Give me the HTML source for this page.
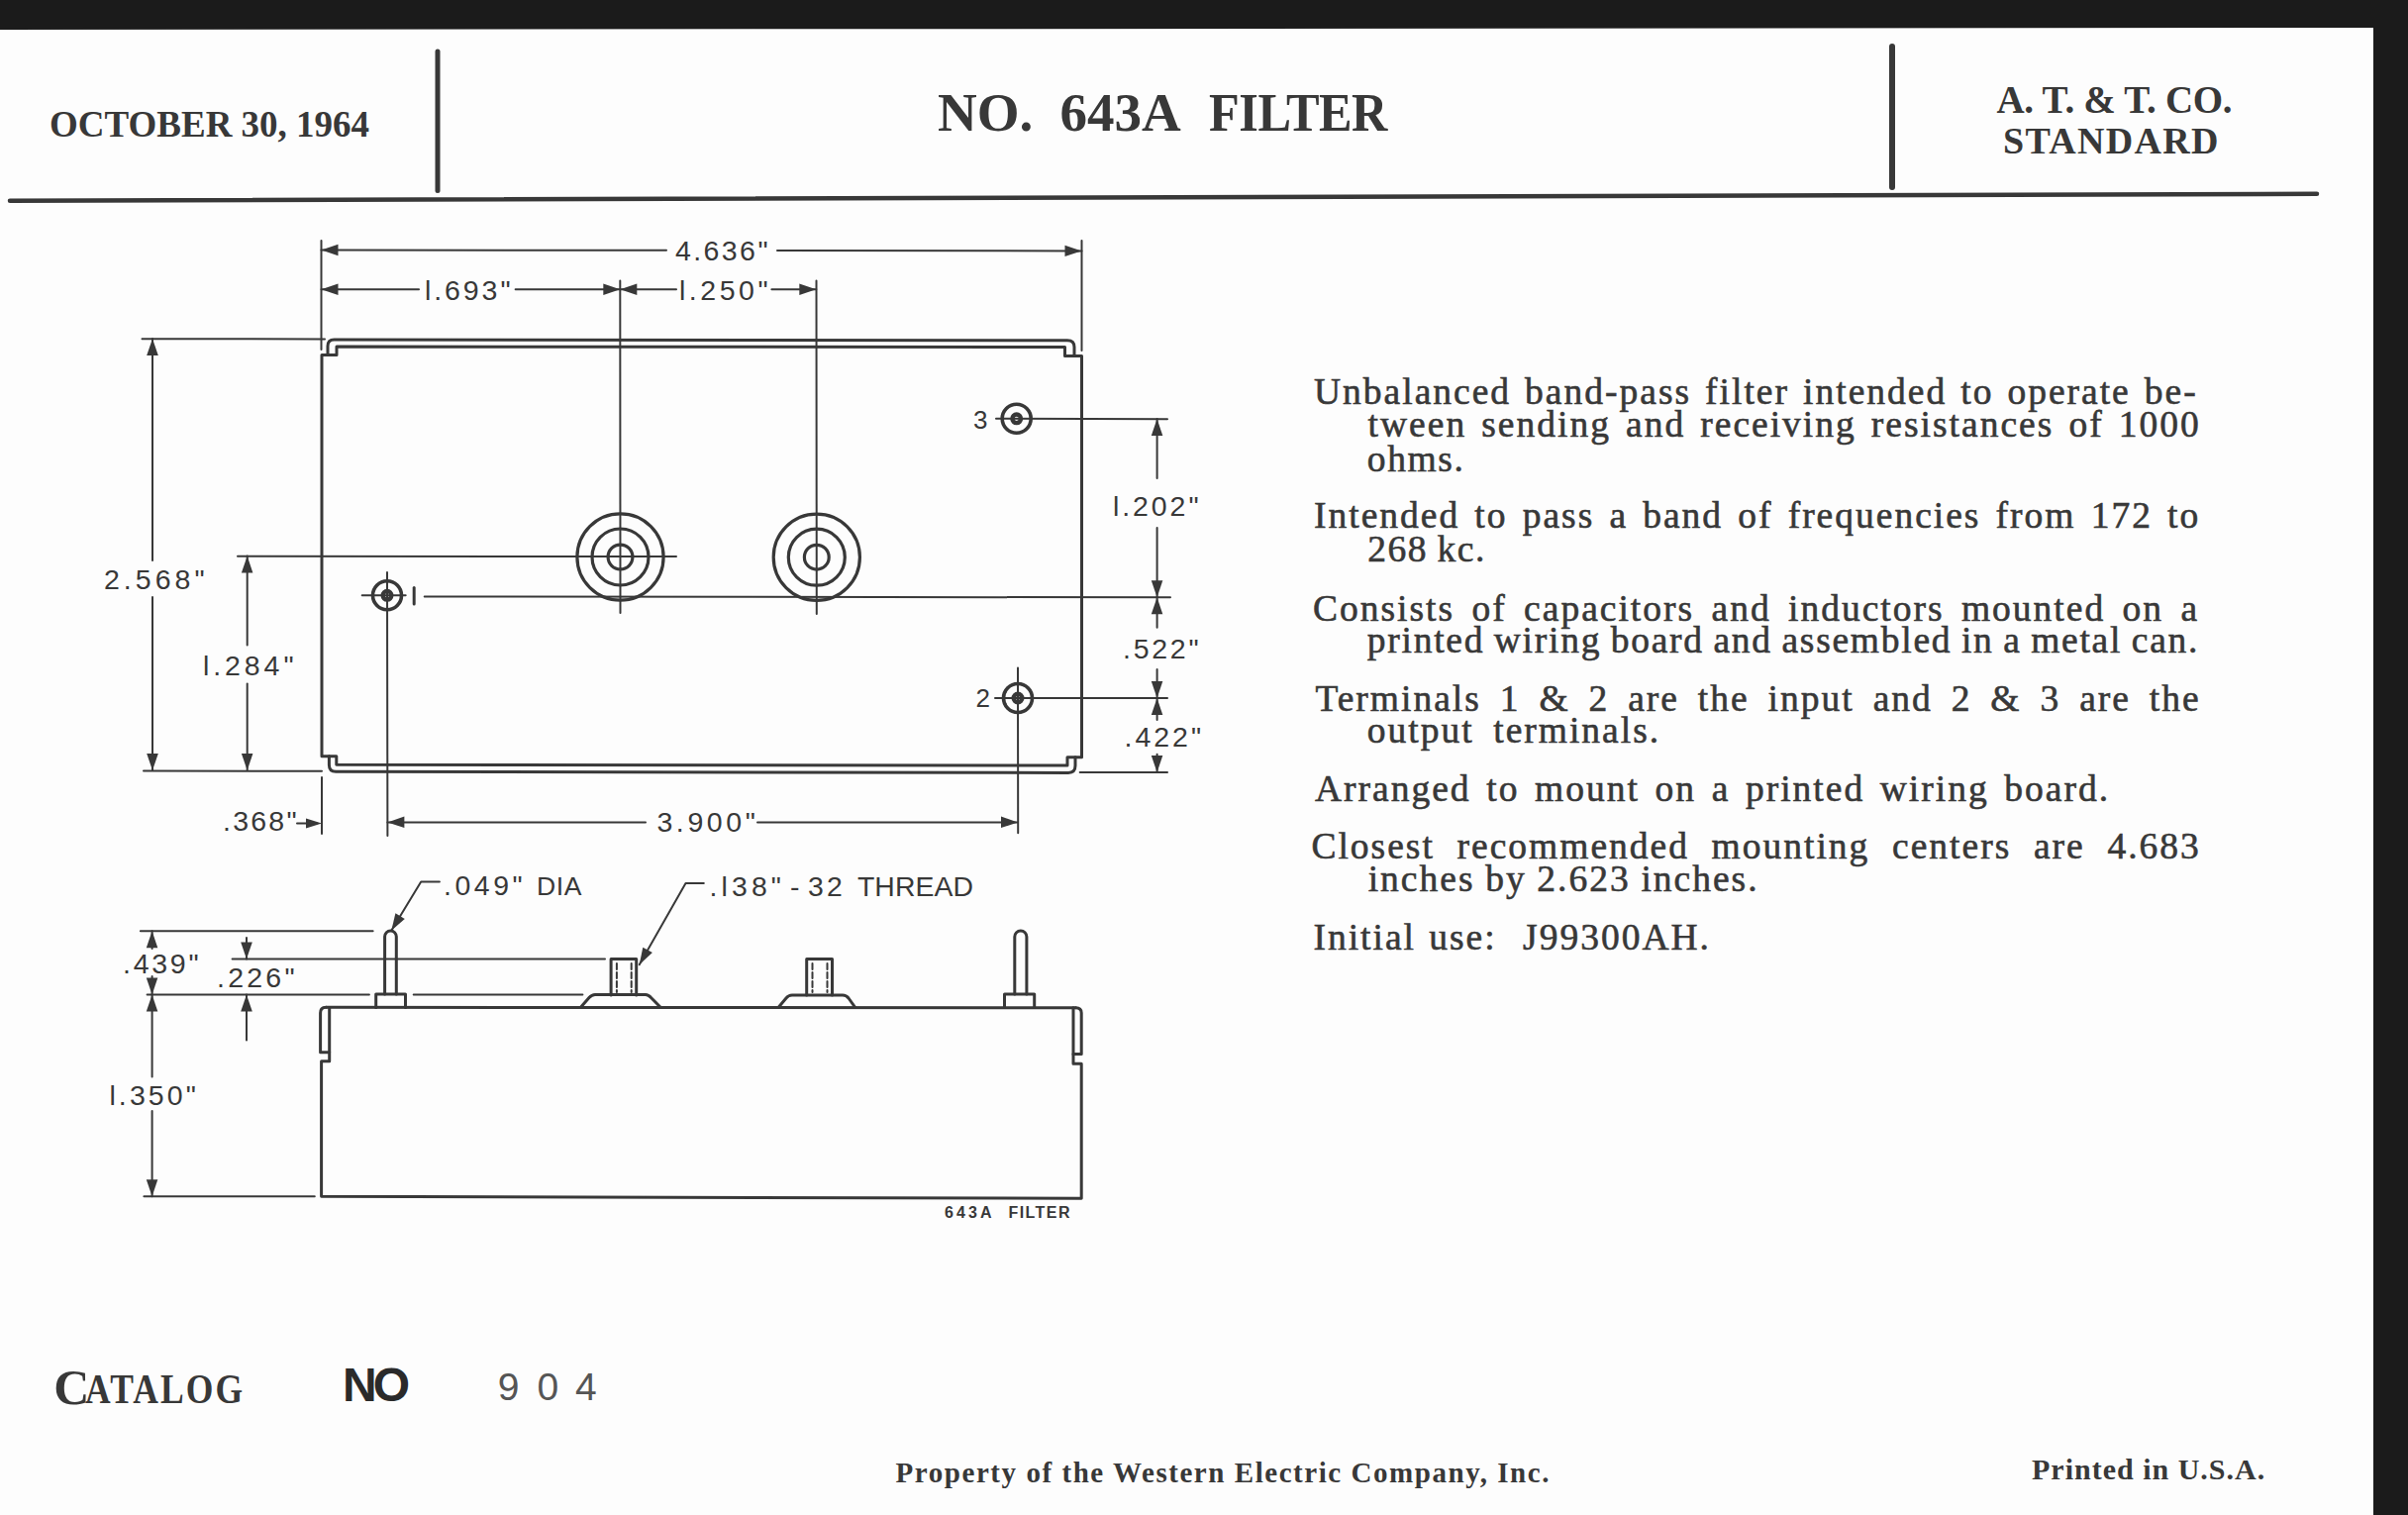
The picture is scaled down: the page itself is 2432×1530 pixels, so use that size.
<!DOCTYPE html><html><head><meta charset="utf-8"><title>No. 643A Filter</title><style>
html,body{margin:0;padding:0;background:#1b1b1b;width:2432px;height:1530px;overflow:hidden;}
svg{position:absolute;left:0;top:0;}
.dr line,.dr path,.dr circle,.dr rect{stroke:#383838;fill:none;stroke-linecap:round;stroke-linejoin:round;}
.dr .f{fill:#383838;stroke:none;}
.d{font-family:"Liberation Sans",sans-serif;fill:#383838;}
.t{position:absolute;white-space:pre;line-height:1;color:#383838;font-family:"Liberation Serif",serif;}
.p{-webkit-text-stroke:0.6px #383838;}
.b{font-weight:700;}
</style></head><body>
<svg width="2432" height="1530" viewBox="0 0 2432 1530">
<polygon points="0,30 2397,28 2397,1530 0,1530" fill="#fdfdfd"/>
<g class="dr">
<line x1="442" y1="52" x2="442" y2="192.5" stroke-width="5"/>
<line x1="1911" y1="47" x2="1911" y2="189" stroke-width="6"/>
<line x1="10" y1="202.8" x2="2340" y2="195.8" stroke-width="4.5"/>
<line x1="324.5" y1="243" x2="324.5" y2="353" stroke-width="2"/>
<line x1="1092.5" y1="243" x2="1092.5" y2="354" stroke-width="2"/>
<line x1="626.3" y1="283.5" x2="626.5" y2="619" stroke-width="2"/>
<line x1="824.5" y1="283.5" x2="824.8" y2="620" stroke-width="2"/>
<line x1="143.5" y1="342.2" x2="328" y2="342.4" stroke-width="2"/>
<line x1="145" y1="778.5" x2="325" y2="778.8" stroke-width="2"/>
<line x1="240" y1="561.7" x2="683" y2="562" stroke-width="2"/>
<line x1="1006" y1="422.8" x2="1179" y2="423.2" stroke-width="2"/>
<line x1="428.7" y1="602.5" x2="1182" y2="603.3" stroke-width="2"/>
<line x1="1005" y1="705" x2="1179" y2="705" stroke-width="2"/>
<line x1="1090.7" y1="780" x2="1179" y2="780" stroke-width="2"/>
<line x1="391" y1="578" x2="391.4" y2="844" stroke-width="2"/>
<line x1="1028" y1="674.6" x2="1028.2" y2="841.3" stroke-width="2"/>
<line x1="325" y1="785" x2="325" y2="842" stroke-width="2"/>
<line x1="365.7" y1="601.3" x2="409.7" y2="601.3" stroke-width="2"/>
<line x1="418.2" y1="593.5" x2="418.2" y2="610" stroke-width="3"/>
<line x1="324.5" y1="252.5" x2="673" y2="252.8" stroke-width="2"/>
<line x1="785" y1="253.1" x2="1092.5" y2="253.4" stroke-width="2"/>
<polygon class="f" points="324.5,252.5 341.5,246.8 341.5,258.2"/>
<polygon class="f" points="1092.5,253.4 1075.5,247.7 1075.5,259.1"/>
<line x1="324.5" y1="292.2" x2="423" y2="292.2" stroke-width="2"/>
<line x1="520.6" y1="292.2" x2="626.3" y2="292.2" stroke-width="2"/>
<polygon class="f" points="324.5,292.2 341.5,286.4 341.5,297.9"/>
<polygon class="f" points="626.3,292.2 609.3,286.4 609.3,297.9"/>
<line x1="626.3" y1="292.2" x2="683" y2="292.2" stroke-width="2"/>
<line x1="779.4" y1="292.2" x2="824.3" y2="292.2" stroke-width="2"/>
<polygon class="f" points="626.3,292.2 643.3,286.4 643.3,297.9"/>
<polygon class="f" points="824.3,292.2 807.3,286.4 807.3,297.9"/>
<line x1="391.4" y1="830.4" x2="652" y2="830.4" stroke-width="2"/>
<line x1="765" y1="830.4" x2="1028" y2="830.4" stroke-width="2"/>
<polygon class="f" points="391.4,830.4 408.4,824.6 408.4,836.1"/>
<polygon class="f" points="1028.0,830.4 1011.0,824.6 1011.0,836.1"/>
<line x1="300" y1="831.4" x2="320" y2="831.4" stroke-width="2"/>
<polygon class="f" points="325.0,831.4 309.0,826.4 309.0,836.4"/>
<line x1="154" y1="342" x2="154" y2="566" stroke-width="2"/>
<line x1="154" y1="603" x2="154" y2="778" stroke-width="2"/>
<polygon class="f" points="154.0,342.0 148.2,359.0 159.8,359.0"/>
<polygon class="f" points="154.0,778.0 148.2,761.0 159.8,761.0"/>
<line x1="249.7" y1="561.6" x2="249.7" y2="651.4" stroke-width="2"/>
<line x1="249.7" y1="690.6" x2="249.7" y2="778" stroke-width="2"/>
<polygon class="f" points="249.7,561.6 243.9,578.6 255.4,578.6"/>
<polygon class="f" points="249.7,778.0 243.9,761.0 255.4,761.0"/>
<line x1="1168.6" y1="423" x2="1168.6" y2="483" stroke-width="2"/>
<line x1="1168.6" y1="533" x2="1168.6" y2="603.3" stroke-width="2"/>
<polygon class="f" points="1168.6,423.0 1162.8,440.0 1174.3,440.0"/>
<polygon class="f" points="1168.6,603.3 1162.8,586.3 1174.3,586.3"/>
<line x1="1168.6" y1="603.3" x2="1168.6" y2="633.7" stroke-width="2"/>
<line x1="1168.6" y1="676" x2="1168.6" y2="705" stroke-width="2"/>
<polygon class="f" points="1168.6,603.3 1162.8,620.3 1174.3,620.3"/>
<polygon class="f" points="1168.6,705.0 1162.8,688.0 1174.3,688.0"/>
<line x1="1168.6" y1="705" x2="1168.6" y2="727" stroke-width="2"/>
<line x1="1168.6" y1="761.8" x2="1168.6" y2="780" stroke-width="2"/>
<polygon class="f" points="1168.6,705.0 1162.8,722.0 1174.3,722.0"/>
<polygon class="f" points="1168.6,780.0 1162.8,763.0 1174.3,763.0"/>
<path d="M 325,763.7 L 325,358.5 L 340,358.5 L 340,350 L 1075.5,350.6 L 1075.5,359.5 L 1092.5,359.5 L 1092.5,764.8 L 1078,764.8 L 1078,773 L 339.8,772.2 L 339.8,763.7 Z" stroke-width="3"/>
<path d="M 331,358.5 L 331,349.5 Q 331,343 337.5,343 L 1078,343.7 Q 1085,343.7 1085,350.5 L 1085,359.5" stroke-width="3"/>
<path d="M 332.4,763.7 L 332.4,772.5 Q 332.4,779.3 339.2,779.3 L 1079,780.4 Q 1086,780.4 1086,773.3 L 1086,764.8" stroke-width="3"/>
<circle cx="626.5" cy="562.5" r="43.6" stroke-width="3.2"/>
<circle cx="626.5" cy="562.5" r="28.5" stroke-width="3.2"/>
<circle cx="626.5" cy="562.5" r="12.4" stroke-width="3.2"/>
<circle cx="824.8" cy="562.7" r="43.6" stroke-width="3.2"/>
<circle cx="824.8" cy="562.7" r="28.5" stroke-width="3.2"/>
<circle cx="824.8" cy="562.7" r="12.4" stroke-width="3.2"/>
<circle cx="391" cy="601.3" r="14.5" stroke-width="3.6"/>
<circle cx="391" cy="601.3" r="4.3" stroke-width="4.4"/>
<circle cx="1026.7" cy="422.8" r="14.5" stroke-width="3.6"/>
<circle cx="1026.7" cy="422.8" r="4.3" stroke-width="4.4"/>
<circle cx="1028" cy="705" r="14.5" stroke-width="3.6"/>
<circle cx="1028" cy="705" r="4.3" stroke-width="4.4"/>
<line x1="141.9" y1="940.2" x2="376.6" y2="940.2" stroke-width="2"/>
<line x1="234.6" y1="968.4" x2="611" y2="968.5" stroke-width="2"/>
<line x1="148.6" y1="1004.5" x2="372.9" y2="1004.5" stroke-width="2"/>
<line x1="417.7" y1="1004.5" x2="588.4" y2="1004.5" stroke-width="2"/>
<line x1="145.4" y1="1208.3" x2="317.8" y2="1208.3" stroke-width="2"/>
<line x1="153.6" y1="940.2" x2="153.6" y2="958" stroke-width="2"/>
<polygon class="f" points="153.6,940.2 147.8,957.2 159.3,957.2"/>
<line x1="153.6" y1="986" x2="153.6" y2="1004.5" stroke-width="2"/>
<polygon class="f" points="153.6,1004.5 147.8,987.5 159.3,987.5"/>
<line x1="153.6" y1="1004.5" x2="153.6" y2="1087.5" stroke-width="2"/>
<polygon class="f" points="153.6,1004.5 147.8,1021.5 159.3,1021.5"/>
<line x1="153.6" y1="1122" x2="153.6" y2="1208.3" stroke-width="2"/>
<polygon class="f" points="153.6,1208.3 147.8,1191.3 159.3,1191.3"/>
<line x1="249" y1="947" x2="249" y2="968.4" stroke-width="2"/>
<polygon class="f" points="249.0,968.4 243.2,951.4 254.8,951.4"/>
<line x1="249" y1="1004.5" x2="249" y2="1050.6" stroke-width="2"/>
<polygon class="f" points="249.0,1004.5 243.2,1021.5 254.8,1021.5"/>
<path d="M 443.9,890.4 L 425.2,890.4 L 395.3,939.7" stroke-width="2"/>
<polygon class="f" points="395.3,939.7 399.4,922.3 408.8,928.0"/>
<path d="M 710.8,892 L 692.5,892 L 645.7,974.2" stroke-width="2"/>
<polygon class="f" points="645.7,974.2 649.3,956.7 658.9,962.1"/>
<path d="M 329.4,1017.3 L 1086.5,1017.8" stroke-width="3"/>
<path d="M 329.4,1017.3 Q 323.6,1017.3 323.6,1023 L 323.6,1062.7 L 332.7,1062.7" stroke-width="3"/>
<path d="M 332.7,1017.5 L 332.7,1071.8 L 324.6,1071.8 L 324.6,1208.3 L 1092.2,1210.3 L 1092.2,1074.3 L 1084,1074.3 L 1084,1017.8" stroke-width="3"/>
<path d="M 1086.5,1017.8 Q 1092.2,1017.8 1092.2,1023 L 1092.2,1064.4 L 1084,1064.4" stroke-width="3"/>
<path d="M 388.6,1004 L 388.6,945.85 A 5.849999999999994 5.849999999999994 0 0 1 400.3,945.85 L 400.3,1004" stroke-width="3"/>
<path d="M 379.7,1017.4 L 379.7,1004 L 409.5,1004 L 409.5,1017.6" stroke-width="3"/>
<path d="M 1024.8,1004 L 1024.8,946.0500000000001 A 6.050000000000068 6.050000000000068 0 0 1 1036.9,946.0500000000001 L 1036.9,1004" stroke-width="3"/>
<path d="M 1014.5,1017.4 L 1014.5,1004 L 1044.7,1004 L 1044.7,1017.6" stroke-width="3"/>
<path d="M 617.1,1005 L 617.1,968.5 L 642.7,968.5 L 642.7,1005" stroke-width="3"/>
<line x1="622.9" y1="973" x2="622.9" y2="1002" stroke-width="2" stroke-dasharray="6 3"/>
<line x1="637.7" y1="973" x2="637.7" y2="1002" stroke-width="2" stroke-dasharray="6 3"/>
<path d="M 814.7,1005 L 814.7,968.5 L 840.5,968.5 L 840.5,1005" stroke-width="3"/>
<line x1="820.5" y1="973" x2="820.5" y2="1002" stroke-width="2" stroke-dasharray="6 3"/>
<line x1="835.5" y1="973" x2="835.5" y2="1002" stroke-width="2" stroke-dasharray="6 3"/>
<path d="M 586.3,1017.5 L 595,1007.5 Q 597.7,1004.4 601,1004.4 L 652,1004.4 Q 655,1004.4 657.5,1007.5 L 667.4,1017.5" stroke-width="3"/>
<path d="M 786.1,1017.5 L 794,1008 Q 796.4,1005 800,1005 L 851,1005 Q 854.7,1005 857,1008 L 863.8,1017.5" stroke-width="3"/>
</g>
<g>
<text class="d" x="682" y="262.5" font-size="28.5" font-weight="400" textLength="93.5" lengthAdjust="spacing">4.636"</text>
<text class="d" x="429" y="302.5" font-size="28.5" font-weight="400" textLength="86.5" lengthAdjust="spacing">l.693"</text>
<text class="d" x="686" y="302.5" font-size="28.5" font-weight="400" textLength="89.5" lengthAdjust="spacing">l.250"</text>
<text class="d" x="105" y="594.5" font-size="28.5" font-weight="400" textLength="101.5" lengthAdjust="spacing">2.568"</text>
<text class="d" x="205" y="681.5" font-size="28.5" font-weight="400" textLength="91.5" lengthAdjust="spacing">l.284"</text>
<text class="d" x="1124" y="521" font-size="28.5" font-weight="400" textLength="86.5" lengthAdjust="spacing">l.202"</text>
<text class="d" x="1134" y="665" font-size="28.5" font-weight="400" textLength="76.5" lengthAdjust="spacing">.522"</text>
<text class="d" x="1135.5" y="753.5" font-size="28.5" font-weight="400" textLength="77.5" lengthAdjust="spacing">.422"</text>
<text class="d" x="225" y="838.5" font-size="28.5" font-weight="400" textLength="74.5" lengthAdjust="spacing">.368"</text>
<text class="d" x="663.4" y="839.5" font-size="28.5" font-weight="400" textLength="99.5" lengthAdjust="spacing">3.900"</text>
<text class="d" x="983" y="433" font-size="26" font-weight="400">3</text>
<text class="d" x="985.5" y="714" font-size="26" font-weight="400">2</text>
<text class="d" x="448.1" y="903.5" font-size="28.4" font-weight="400" textLength="79.5" lengthAdjust="spacing">.049"</text>
<text class="d" x="542" y="903.5" font-size="26.5" font-weight="400" textLength="45.5" lengthAdjust="spacing">DIA</text>
<text class="d" x="716.6" y="904.5" font-size="28.4" font-weight="400" textLength="72.3" lengthAdjust="spacing">.l38"</text>
<text class="d" x="798" y="904.5" font-size="28.4" font-weight="400" textLength="14.0" lengthAdjust="spacing">-</text>
<text class="d" x="816" y="904.5" font-size="28.4" font-weight="400" textLength="34.7" lengthAdjust="spacing">32</text>
<text class="d" x="866" y="904.5" font-size="28.4" font-weight="400" textLength="116.9" lengthAdjust="spacing">THREAD</text>
<text class="d" x="124" y="983" font-size="28.5" font-weight="400" textLength="76.5" lengthAdjust="spacing">.439"</text>
<text class="d" x="219" y="997" font-size="28.5" font-weight="400" textLength="78.5" lengthAdjust="spacing">.226"</text>
<text class="d" x="110.4" y="1115.5" font-size="28.5" font-weight="400" textLength="87.5" lengthAdjust="spacing">l.350"</text>
<text class="d" x="954" y="1230.2" font-size="16" font-weight="700" textLength="47.5" lengthAdjust="spacing">643A</text>
<text class="d" x="1018.5" y="1230.2" font-size="16" font-weight="700" textLength="62.0" lengthAdjust="spacing">FILTER</text>
</g>
</svg>
<div class="t b" style="left:50px;top:107.0px;font-size:37px;letter-spacing:0px;word-spacing:0px;">OCTOBER 30, 1964</div>
<div class="t b" style="left:947px;top:85.9px;font-size:55px;letter-spacing:0px;word-spacing:0px;">NO.</div>
<div class="t b" style="left:1070.6px;top:85.9px;font-size:55px;letter-spacing:0px;word-spacing:0px;">643A</div>
<div class="t b" style="left:1221px;top:85.9px;font-size:55px;letter-spacing:-0.5px;word-spacing:0px;transform:scaleX(0.915);transform-origin:0 0;">FILTER</div>
<div class="t b" style="left:2016.5px;top:81.3px;font-size:39px;letter-spacing:-0.3px;word-spacing:0px;">A. T. &amp; T. CO.</div>
<div class="t b" style="left:2023px;top:123.2px;font-size:38px;letter-spacing:1.3px;word-spacing:0px;">STANDARD</div>
<div class="t b" style="left:904.6px;top:1472.7px;font-size:29px;letter-spacing:1.55px;word-spacing:0px;">Property of the Western Electric Company, Inc.</div>
<div class="t b" style="left:2052px;top:1468.9px;font-size:30px;letter-spacing:1.0px;word-spacing:0px;">Printed in U.S.A.</div>
<div class="t p" style="left:1327.0px;top:376.5px;font-size:37.5px;letter-spacing:2.0px;word-spacing:2.667px;">Unbalanced band-pass filter intended to operate be-</div>
<div class="t p" style="left:1381.6px;top:410.2px;font-size:37.5px;letter-spacing:2.0px;word-spacing:3.733px;">tween sending and receiving resistances of 1000</div>
<div class="t p" style="left:1380.8px;top:444.6px;font-size:37.5px;letter-spacing:1.625px;word-spacing:0.0px;">ohms.</div>
<div class="t p" style="left:1327.0px;top:502.3px;font-size:37.5px;letter-spacing:2.0px;word-spacing:3.778px;">Intended to pass a band of frequencies from 172 to</div>
<div class="t p" style="left:1381.3px;top:536.1px;font-size:37.5px;letter-spacing:1.533px;word-spacing:-1.5px;">268 kc.</div>
<div class="t p" style="left:1326.0px;top:595.5px;font-size:37.5px;letter-spacing:2.0px;word-spacing:6.0px;">Consists of capacitors and inductors mounted on a</div>
<div class="t p" style="left:1380.8px;top:628.2px;font-size:37.5px;letter-spacing:1.739px;word-spacing:-1.5px;">printed wiring board and assembled in a metal can.</div>
<div class="t p" style="left:1328.4px;top:686.7px;font-size:37.5px;letter-spacing:2.0px;word-spacing:7.55px;">Terminals 1 &amp; 2 are the input and 2 &amp; 3 are the</div>
<div class="t p" style="left:1380.8px;top:719.4px;font-size:37.5px;letter-spacing:2.0px;word-spacing:8.2px;">output terminals.</div>
<div class="t p" style="left:1328.0px;top:778.4px;font-size:37.5px;letter-spacing:2.0px;word-spacing:4.257px;">Arranged to mount on a printed wiring board.</div>
<div class="t p" style="left:1324.4px;top:836.1px;font-size:37.5px;letter-spacing:2.0px;word-spacing:11.32px;">Closest recommended mounting centers are 4.683</div>
<div class="t p" style="left:1381.7px;top:868.8px;font-size:37.5px;letter-spacing:2.0px;word-spacing:-0.7px;">inches by 2.623 inches.</div>
<div class="t p" style="left:1326.4px;top:928.2px;font-size:37.5px;letter-spacing:2.0px;word-spacing:1.867px;">Initial use:  J99300AH.</div>
<div class="t b" style="left:54.2px;top:1375.9px;font-size:50px;letter-spacing:0px;word-spacing:0px;">C</div>
<div class="t b" style="left:86px;top:1383.0px;font-size:41.5px;letter-spacing:2.5px;word-spacing:0px;transform:scaleX(0.855);transform-origin:0 0;">ATALOG</div>
<div class="t" style="left:346px;top:1375.4px;font-size:48px;font-family:'Liberation Sans',sans-serif;font-weight:700;color:#2a2a2a;letter-spacing:-4px">NO</div>
<div class="t" style="left:502.7px;top:1380.6px;font-size:39px;font-family:'Liberation Sans',sans-serif;color:#555">9</div>
<div class="t" style="left:542.6px;top:1380.6px;font-size:39px;font-family:'Liberation Sans',sans-serif;color:#555">0</div>
<div class="t" style="left:581.0px;top:1380.6px;font-size:39px;font-family:'Liberation Sans',sans-serif;color:#555">4</div>
</body></html>
